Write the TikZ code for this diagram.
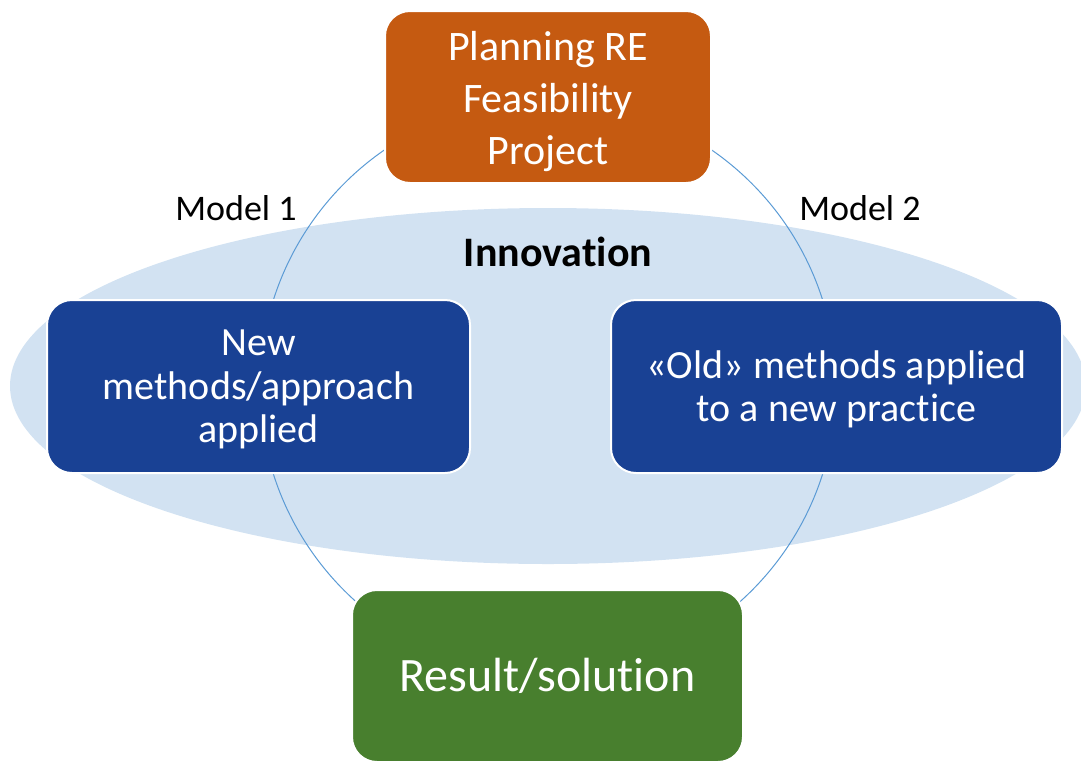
\documentclass[tikz,border=0pt]{standalone}
\usepackage{fontspec}
\setmainfont{Carlito}[Ligatures={NoCommon,NoContextual,NoRequired},Contextuals=NoAlternate]
\newcommand{\nolig}{\kern0pt}
\definecolor{orangebox}{RGB}{197,90,17}
\definecolor{bluebox}{RGB}{25,65,148}
\definecolor{greenbox}{RGB}{72,127,46}
\definecolor{ellfill}{RGB}{210,226,242}
\definecolor{ringcol}{RGB}{91,155,213}
\begin{document}
\begin{tikzpicture}[x=1pt,y=-1pt]
\tikzset{
  boxbase/.style={rectangle, rounded corners=25pt, draw=white, line width=2pt, inner sep=0pt},
  orangestyle/.style={boxbase, fill=orangebox, minimum width=326pt, minimum height=172pt},
  bluestyle/.style={boxbase, fill=bluebox, minimum height=173pt},
  greenstyle/.style={boxbase, fill=greenbox, minimum width=391pt, minimum height=172pt},
  boxtext/.style={text=white, align=center, inner sep=0pt},
  lbl/.style={text=black, inner sep=0pt, font=\fontsize{36}{40}\selectfont},
}
\useasboundingbox (0,0) rectangle (1081,761);
\fill[ellfill] (548,386) ellipse[x radius=538pt, y radius=178pt];
\node[lbl, font=\fontsize{42}{46}\selectfont\bfseries] (innov) at (558,252) {Innovat\nolig ion};
\draw[ringcol, line width=1pt] (548,387) circle[radius=288pt];
\node[orangestyle] (plan) at (548,97) {};
\node[boxtext, font=\fontsize{42}{52}\selectfont] (plant) at ([yshift=-5pt]plan.center) {Planning RE\\Feasibility\\Project};
\node[bluestyle, minimum width=423pt] (new) at (258.5,386.5) {};
\node[boxtext, font=\fontsize{40}{43.5}\selectfont] (newt) at ([yshift=-3pt]new.center) {New\\methods/approach\\applied};
\node[bluestyle, minimum width=451pt] (old) at (836.5,386.5) {};
\node[boxtext, font=\fontsize{40}{43.5}\selectfont] (oldt) at ([yshift=-3pt]old.center) {«Old» methods applied\\to a new practice};
\node[greenstyle] (res) at (547.5,676) {};
\node[boxtext, font=\fontsize{48}{56}\selectfont] (rest) at (res.center) {Result/solut\nolig ion};
\node[lbl] (m1) at (236,208) {Model 1};
\node[lbl] (m2) at (860,208) {Model 2};
\end{tikzpicture}
\end{document}
